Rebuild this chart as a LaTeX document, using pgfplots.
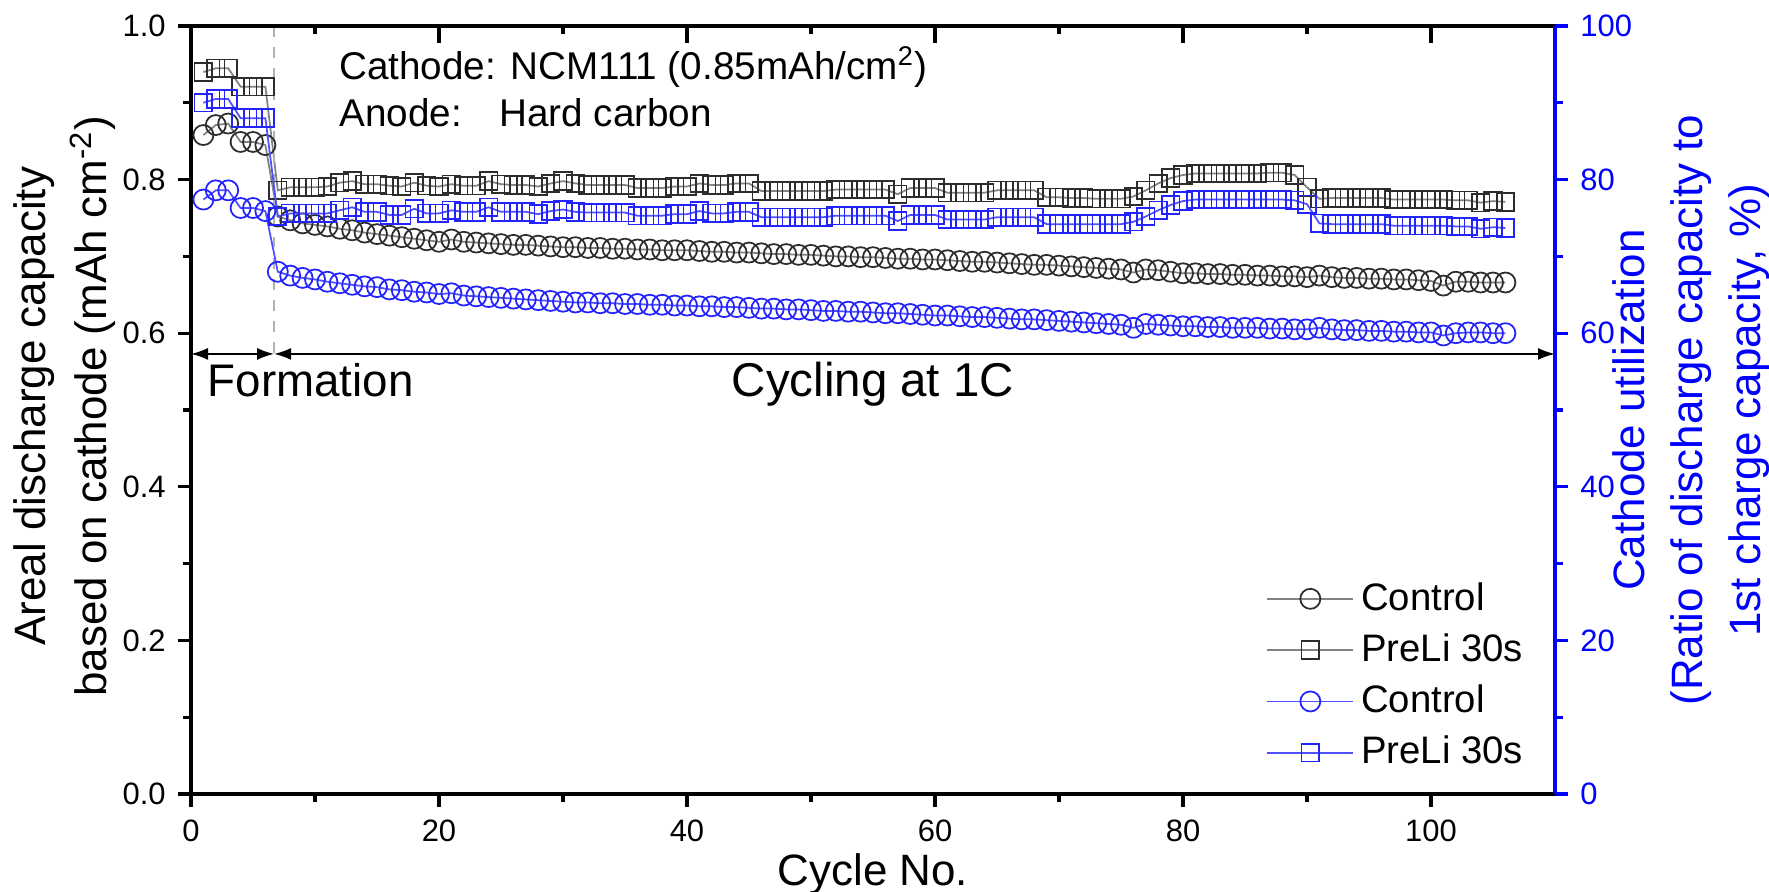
\documentclass[border=0pt]{standalone}
\usepackage{pgfplots}
\pgfplotsset{compat=1.18}
\usepackage{fontspec}
\setmainfont{Liberation Sans}
\usetikzlibrary{arrows.meta}

\definecolor{markgray}{RGB}{45,45,45}
\definecolor{linegray}{RGB}{130,130,130}
\definecolor{markblue}{RGB}{35,35,255}
\definecolor{lineblue}{RGB}{80,80,255}
\definecolor{axblue}{RGB}{0,0,255}

\pgfplotsset{
  base/.style={
    scale only axis, width=13.64cm, height=7.68cm,
    xmin=0, xmax=110,
    tick align=outside,
    major tick length=0.13cm, minor tick length=0.08cm,
    tick label style={font=\fontsize{8.8}{10}\selectfont},
    /pgf/number format/assume math mode=true,
    legend image code/.code={
      \draw[mark repeat=2,mark phase=2]
      plot coordinates {(0cm,0cm) (0.43cm,0cm) (0.86cm,0cm)};
    },
  },
  grayc/.style={color=linegray, line width=0.5pt, mark=o, mark size=2.85pt,
    mark options={draw=markgray, line width=0.5pt}},
  grays/.style={color=linegray, line width=0.5pt, mark=square, mark size=2.5pt,
    mark options={draw=markgray, line width=0.5pt}},
  bluec/.style={color=lineblue, line width=0.5pt, mark=o, mark size=2.85pt,
    mark options={draw=markblue, line width=0.5pt}},
  blues/.style={color=lineblue, line width=0.5pt, mark=square, mark size=2.5pt,
    mark options={draw=markblue, line width=0.5pt}},
}

\begin{document}
\begin{tikzpicture}
% left axis: areal capacity
\begin{axis}[base, name=ax1,
  ymin=0, ymax=1,
  axis x line*=bottom, axis y line*=left,
  axis line style={-, line width=0.9pt},
  tick style={line width=0.9pt, black},
  xtick={0,20,40,60,80,100}, minor x tick num=1,
  ytick={0,0.2,0.4,0.6,0.8,1.0}, minor y tick num=1,
  yticklabel style={/pgf/number format/.cd, fixed, fixed zerofill, precision=1},
  xlabel={Cycle No.},
  xlabel style={font=\fontsize{12.5}{15}\selectfont, at={(axis description cs:0.5,-0.1185)}, anchor=base},
  ylabel={Areal discharge capacity\\based on cathode (mAh cm\textsuperscript{-2})},
  ylabel style={font=\fontsize{12.5}{17.5}\selectfont, align=center, at={(axis description cs:-0.0927,0.505)}, anchor=center},
  clip=false,
]
\addplot[grayc] coordinates {
(1,0.858) (2,0.871) (3,0.873) (4,0.849) (5,0.849) (6,0.845) (7,0.752) (8,0.747) (9,0.743) (10,0.741)
(11,0.739) (12,0.736) (13,0.734) (14,0.731) (15,0.729) (16,0.727) (17,0.725) (18,0.723) (19,0.721) (20,0.719)
(21,0.722) (22,0.719) (23,0.718) (24,0.717) (25,0.716) (26,0.715) (27,0.715) (28,0.714) (29,0.713) (30,0.712)
(31,0.712) (32,0.711) (33,0.711) (34,0.710) (35,0.710) (36,0.709) (37,0.709) (38,0.708) (39,0.708) (40,0.708)
(41,0.707) (42,0.706) (43,0.706) (44,0.705) (45,0.705) (46,0.704) (47,0.703) (48,0.703) (49,0.702) (50,0.702)
(51,0.701) (52,0.700) (53,0.700) (54,0.699) (55,0.699) (56,0.698) (57,0.697) (58,0.697) (59,0.696) (60,0.696)
(61,0.695) (62,0.694) (63,0.693) (64,0.693) (65,0.692) (66,0.691) (67,0.690) (68,0.689) (69,0.689) (70,0.688)
(71,0.687) (72,0.686) (73,0.685) (74,0.684) (75,0.683) (76,0.679) (77,0.683) (78,0.682) (79,0.680) (80,0.678)
(81,0.678) (82,0.677) (83,0.677) (84,0.676) (85,0.676) (86,0.675) (87,0.675) (88,0.674) (89,0.674) (90,0.673)
(91,0.675) (92,0.673) (93,0.672) (94,0.672) (95,0.671) (96,0.671) (97,0.670) (98,0.670) (99,0.669) (100,0.668)
(101,0.662) (102,0.667) (103,0.667) (104,0.666) (105,0.666) (106,0.666)
};
\addplot[grays] coordinates {
(1,0.940) (2,0.945) (3,0.945) (4,0.921) (5,0.921) (6,0.921) (7,0.786) (8,0.790) (9,0.790) (10,0.790)
(11,0.791) (12,0.796) (13,0.798) (14,0.794) (15,0.794) (16,0.792) (17,0.791) (18,0.796) (19,0.792) (20,0.791)
(21,0.794) (22,0.792) (23,0.792) (24,0.798) (25,0.794) (26,0.793) (27,0.793) (28,0.791) (29,0.795) (30,0.798)
(31,0.795) (32,0.793) (33,0.793) (34,0.793) (35,0.793) (36,0.789) (37,0.789) (38,0.789) (39,0.791) (40,0.791)
(41,0.795) (42,0.793) (43,0.793) (44,0.795) (45,0.795) (46,0.785) (47,0.785) (48,0.785) (49,0.785) (50,0.785)
(51,0.785) (52,0.787) (53,0.787) (54,0.787) (55,0.787) (56,0.787) (57,0.781) (58,0.789) (59,0.789) (60,0.789)
(61,0.783) (62,0.783) (63,0.783) (64,0.783) (65,0.786) (66,0.786) (67,0.786) (68,0.786) (69,0.777) (70,0.777)
(71,0.776) (72,0.776) (73,0.775) (74,0.775) (75,0.775) (76,0.778) (77,0.786) (78,0.795) (79,0.802) (80,0.806)
(81,0.808) (82,0.808) (83,0.808) (84,0.808) (85,0.808) (86,0.808) (87,0.809) (88,0.809) (89,0.806) (90,0.790)
(91,0.775) (92,0.776) (93,0.776) (94,0.776) (95,0.776) (96,0.776) (97,0.774) (98,0.774) (99,0.774) (100,0.774)
(101,0.774) (102,0.773) (103,0.773) (104,0.770) (105,0.772) (106,0.771)
};
% annotations
\draw[gray!60, dashed, line width=0.5pt] (axis cs:6.7,1.0) -- (axis cs:6.7,0.573);
\draw[line width=0.5pt, {Latex[length=0.17cm,width=0.12cm]}-{Latex[length=0.17cm,width=0.12cm]}]
  (axis cs:0,0.573) -- (axis cs:6.7,0.573);
\draw[line width=0.5pt, {Latex[length=0.17cm,width=0.12cm]}-{Latex[length=0.17cm,width=0.12cm]}]
  (axis cs:6.7,0.573) -- (axis cs:110,0.573);
\node[anchor=base west, inner sep=0pt, font=\fontsize{13}{16}\selectfont] at (axis cs:1.3,0.518) {Formation};
\node[anchor=base, inner sep=0pt, font=\fontsize{13.5}{16}\selectfont] at (axis cs:55,0.518) {Cycling at 1C};
\node[anchor=base west, inner sep=0pt, font=\fontsize{11}{13}\selectfont] at (axis cs:11.9,0.930) {Cathode: NCM111 (0.85mAh/cm\textsuperscript{2})};
\node[anchor=base west, inner sep=0pt, font=\fontsize{11}{13}\selectfont] at (axis cs:11.9,0.869) {Anode:};
\node[anchor=base west, inner sep=0pt, font=\fontsize{11}{13}\selectfont] at (axis cs:24.8,0.869) {Hard carbon};
\end{axis}

% top axis line with inward ticks
\begin{axis}[base,
  ymin=0, ymax=1,
  axis x line*=top, hide y axis,
  axis line style={-, line width=0.9pt},
  tick style={line width=0.9pt, black},
  tick align=inside, major tick length=0.17cm,
  xtick={0,20,40,60,80,100}, minor x tick num=1,
  xticklabels={},
]
\end{axis}

% right axis: cathode utilization
\begin{axis}[base,
  ymin=0, ymax=100,
  axis y line*=right, hide x axis,
  axis line style={-, line width=0.9pt, axblue},
  tick style={line width=0.9pt, axblue},
  ytick={0,20,40,60,80,100}, minor y tick num=1,
  yticklabel style={axblue},
  ylabel={Cathode utilization\\(Ratio of discharge capacity to\\1st charge capacity, \%)},
  ylabel style={font=\fontsize{12.5}{16.5}\selectfont, align=center, axblue, at={(axis description cs:1.0997,0.5)}, anchor=center},
  legend style={draw=none, fill=none, at={(axis description cs:0.99,0.013)}, anchor=south east,
    font=\fontsize{10.9}{13}\selectfont, row sep=1.2pt, legend cell align=left},
]
\addlegendimage{grayc}
\addlegendentry{Control}
\addlegendimage{grays}
\addlegendentry{PreLi 30s}
\addplot[bluec] coordinates {
(1,77.4) (2,78.6) (3,78.6) (4,76.3) (5,76.3) (6,75.9) (7,68.0) (8,67.5) (9,67.2) (10,67.0)
(11,66.7) (12,66.5) (13,66.3) (14,66.1) (15,66.0) (16,65.7) (17,65.6) (18,65.4) (19,65.3) (20,65.1)
(21,65.2) (22,64.9) (23,64.8) (24,64.7) (25,64.6) (26,64.5) (27,64.4) (28,64.3) (29,64.2) (30,64.1)
(31,64.0) (32,64.0) (33,63.9) (34,63.9) (35,63.8) (36,63.8) (37,63.7) (38,63.7) (39,63.6) (40,63.6)
(41,63.5) (42,63.5) (43,63.4) (44,63.4) (45,63.3) (46,63.2) (47,63.2) (48,63.1) (49,63.1) (50,63.0)
(51,62.9) (52,62.9) (53,62.8) (54,62.8) (55,62.7) (56,62.6) (57,62.6) (58,62.5) (59,62.4) (60,62.3)
(61,62.3) (62,62.2) (63,62.1) (64,62.1) (65,62.0) (66,61.9) (67,61.8) (68,61.8) (69,61.7) (70,61.6)
(71,61.5) (72,61.4) (73,61.3) (74,61.2) (75,61.1) (76,60.7) (77,61.2) (78,61.1) (79,61.0) (80,60.9)
(81,60.9) (82,60.8) (83,60.8) (84,60.7) (85,60.7) (86,60.7) (87,60.6) (88,60.6) (89,60.5) (90,60.5)
(91,60.7) (92,60.5) (93,60.4) (94,60.4) (95,60.3) (96,60.3) (97,60.2) (98,60.2) (99,60.1) (100,60.1)
(101,59.7) (102,60.0) (103,60.1) (104,60.1) (105,60.0) (106,60.0)
};
\addlegendentry{Control}
\addplot[blues] coordinates {
(1,90.0) (2,90.5) (3,90.5) (4,88.0) (5,88.0) (6,88.0) (7,75.2) (8,75.6) (9,75.6) (10,75.6)
(11,75.6) (12,76.0) (13,76.4) (14,75.8) (15,75.8) (16,75.4) (17,75.4) (18,76.2) (19,75.6) (20,75.6)
(21,76.0) (22,75.8) (23,75.8) (24,76.4) (25,75.8) (26,75.8) (27,75.8) (28,75.5) (29,75.9) (30,76.1)
(31,75.8) (32,75.7) (33,75.7) (34,75.7) (35,75.7) (36,75.3) (37,75.3) (38,75.3) (39,75.5) (40,75.5)
(41,75.9) (42,75.6) (43,75.6) (44,75.8) (45,75.8) (46,75.1) (47,75.1) (48,75.1) (49,75.1) (50,75.1)
(51,75.1) (52,75.3) (53,75.3) (54,75.3) (55,75.3) (56,75.3) (57,74.6) (58,75.4) (59,75.4) (60,75.4)
(61,74.8) (62,74.8) (63,74.8) (64,74.8) (65,75.1) (66,75.1) (67,75.1) (68,75.1) (69,74.2) (70,74.2)
(71,74.2) (72,74.2) (73,74.2) (74,74.2) (75,74.2) (76,74.5) (77,75.2) (78,76.0) (79,76.7) (80,77.2)
(81,77.4) (82,77.4) (83,77.4) (84,77.4) (85,77.4) (86,77.4) (87,77.4) (88,77.4) (89,77.3) (90,76.8)
(91,74.3) (92,74.2) (93,74.2) (94,74.2) (95,74.2) (96,74.2) (97,74.0) (98,74.0) (99,74.0) (100,74.0)
(101,74.0) (102,73.9) (103,73.9) (104,73.6) (105,73.8) (106,73.7)
};
\addlegendentry{PreLi 30s}
\end{axis}

\pgfresetboundingbox
\path[use as bounding box] ([xshift=-1.91cm,yshift=-0.98cm]ax1.south west)
  rectangle ([xshift=2.14cm,yshift=0.26cm]ax1.north east);
\end{tikzpicture}
\end{document}
